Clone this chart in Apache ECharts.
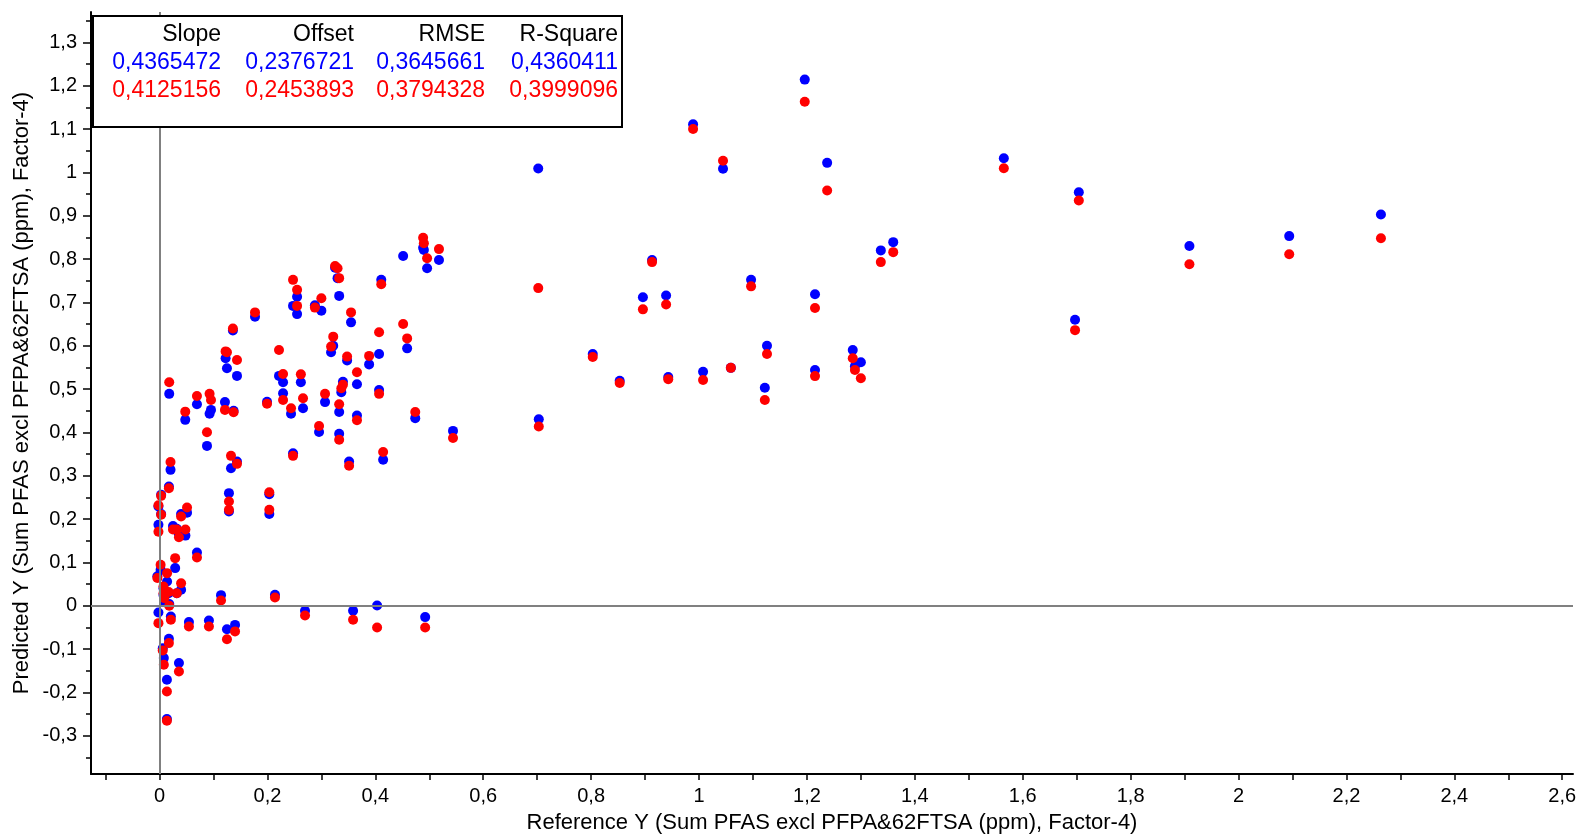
<!DOCTYPE html>
<html><head><meta charset="utf-8">
<script src="https://cdn.jsdelivr.net/npm/echarts@6/dist/echarts.min.js"></script>
<style>html,body{margin:0;padding:0;background:#fff}#c{width:1581px;height:838px}</style>
</head><body><div id="c"></div>
<script>
// Reference Y values (x axis)
const refY = [
 0.702,0.703,0.989,1.196,1.0445,1.2375,1.565,1.704,1.697,1.909,2.094,2.264,1.360,1.337,1.0965,1.215,1.126,1.285,1.289,1.300,
 1.0075,1.059,1.215,1.122,0.544,0.803,0.853,0.896,0.913,0.939,0.943,
 0.4886,0.490,0.496,0.518,0.4516,0.411,0.3254,0.330,0.333,0.2475,0.255,0.255,0.288,0.300,0.355,0.177,0.136,0.459,0.407,
 0.318,0.322,0.2215,0.229,0.262,0.3477,0.3885,0.366,0.340,0.337,0.1225,0.125,0.1436,0.0694,0.0928,0.0954,0.1213,0.1373,0.0477,0.088,
 0.1993,0.229,0.2438,0.266,0.3068,0.333,0.407,0.474,0.366,0.333,0.2957,0.2475,0.1325,0.1436,0.3514,0.4145,0.018,
 0.1287,0.1287,0.0204,0.0174,0.003,-0.002,0.003,-0.002,0.025,0.032,0.036,0.048,0.040,0.051,0.0694,0.029,0.2035,0.2035,
 0.214,0.2697,0.3588,0.4033,0.4924,0.114,0.0545,0.0916,0.125,0.14,0.0174,0.006,0.008,0.036,0.0137,0.0137,
 0.002,-0.004,0.014,0.0074,0.0074,0.009,0.040,0.032,0.017,0.018,-0.002,0.021
];
// Predicted Y, blue series
const predBlue = [
 1.009,0.4306,1.111,1.214,1.0085,1.022,1.0325,0.954,0.660,0.830,0.853,0.903,0.839,0.820,0.752,0.719,0.600,0.590,0.553,0.562,
 0.540,0.549,0.544,0.503,0.4036,0.581,0.519,0.712,0.798,0.716,0.528,
 0.826,0.821,0.779,0.798,0.807,0.752,0.780,0.756,0.715,0.692,0.713,0.673,0.6935,0.681,0.654,0.667,0.635,0.594,0.581,
 0.585,0.600,0.5305,0.516,0.516,0.566,0.557,0.511,0.517,0.493,0.571,0.548,0.5305,0.465,0.443,0.452,0.470,0.450,0.429,0.369,
 0.471,0.4905,0.443,0.456,0.470,0.447,0.498,0.433,0.439,0.397,0.401,0.352,0.3175,0.333,0.333,0.337,0.489,
 0.260,0.2175,0.3137,0.275,0.256,0.229,0.212,0.187,0.184,0.178,0.165,0.162,0.212,0.215,0.123,0.087,0.2576,0.212,
 0.0254,-0.0115,-0.0115,0.0008,-0.026,0.0246,-0.0376,-0.034,-0.054,-0.044,-0.076,-0.098,-0.1206,-0.132,-0.1707,-0.261,
 0.083,0.068,0.056,0.040,0.025,0.010,0.037,0.029,0.029,0.004,-0.0154,-0.0246
];
// Predicted Y, red series
const predRed = [
 0.733,0.4136,1.100,1.163,1.027,0.958,1.0095,0.935,0.636,0.788,0.811,0.848,0.816,0.793,0.737,0.687,0.581,0.571,0.544,0.525,
 0.521,0.549,0.530,0.475,0.387,0.574,0.514,0.684,0.793,0.695,0.523,
 0.849,0.8365,0.802,0.823,0.650,0.742,0.784,0.779,0.756,0.752,0.729,0.692,0.688,0.7097,0.677,0.677,0.640,0.617,0.631,
 0.598,0.621,0.590,0.535,0.534,0.575,0.5766,0.539,0.510,0.502,0.587,0.585,0.567,0.484,0.489,0.475,0.452,0.4467,0.448,0.4006,
 0.466,0.475,0.456,0.479,0.489,0.465,0.489,0.447,0.428,0.383,0.415,0.346,0.346,0.3275,0.323,0.355,0.516,
 0.2406,0.2214,0.332,0.2714,0.2537,0.232,0.210,0.171,0.176,0.176,0.158,0.176,0.206,0.227,0.1114,0.110,0.262,0.2214,
 0.019,-0.0224,-0.032,-0.050,-0.050,0.0122,-0.0477,-0.0477,-0.077,-0.059,-0.086,-0.103,-0.136,-0.1515,-0.1976,-0.265,
 0.0946,0.064,0.0754,0.0446,0.029,0.0178,0.052,0.029,0.032,0.0,-0.040,-0.032
];
const xTickValues = [-0.1,0,0.1,0.2,0.3,0.4,0.5,0.6,0.7,0.8,0.9,1,1.1,1.2,1.3,1.4,1.5,1.6,1.7,1.8,1.9,2,2.1,2.2,2.3,2.4,2.5,2.6];
const xLabelValues = [0,0.2,0.4,0.6,0.8,1,1.2,1.4,1.6,1.8,2,2.2,2.4,2.6];
const yLabelValues = [-0.3,-0.2,-0.1,0,0.1,0.2,0.3,0.4,0.5,0.6,0.7,0.8,0.9,1,1.1,1.2,1.3];
const yMinorValues = [-0.35,-0.25,-0.15,-0.05,0.05,0.15,0.25,0.35,0.45,0.55,0.65,0.75,0.85,0.95,1.05,1.15,1.25,1.35];
const statHeaders = ['Slope','Offset','RMSE','R-Square'];
const statsBlue = ['0,4365472','0,2376721','0,3645661','0,4360411'];
const statsRed = ['0,4125156','0,2453893','0,3794328','0,3999096'];
const xTitle = 'Reference Y (Sum PFAS excl PFPA&62FTSA (ppm), Factor-4)';
const yTitle = 'Predicted Y (Sum PFAS excl PFPA&62FTSA (ppm), Factor-4)';

const FONT = "'Liberation Sans', Arial, sans-serif";
const fmt = v => String(Math.round(v * 100) / 100).replace('.', ',');

const colX = [221, 354, 485, 618];
const rowY = [35, 63, 91];
const legendTexts = [];
[[statHeaders, '#000'], [statsBlue, '#0000ff'], [statsRed, '#ff0000']].forEach(([arr, col], r) => {
  arr.forEach((t, c) => {
    legendTexts.push({type:'text', x: colX[c], y: rowY[r], z: 101,
      style:{text:t, fill:col, font:'23px ' + FONT, textAlign:'right', textVerticalAlign:'middle'}});
  });
});

const chart = echarts.init(document.getElementById('c'), null, {renderer:'canvas'});
chart.setOption({
  animation:false,
  backgroundColor:'#fff',
  grid:{left:91, right:8, top:12, bottom:64, outerBoundsMode:'none', containLabel:false},
  xAxis:{type:'value', min:-0.127, max:2.62, splitLine:{show:false},
    axisLine:{show:true, onZero:false, lineStyle:{color:'#000', width:2}},
    axisTick:{show:true, customValues:xTickValues, length:6, lineStyle:{color:'#000', width:1.5}},
    axisLabel:{customValues:xLabelValues, formatter:fmt, fontSize:20, color:'#000', margin:12, fontFamily:FONT},
    name:xTitle, nameLocation:'middle', nameGap:38, nameMoveOverlap:false,
    nameTextStyle:{fontSize:22, color:'#000', fontFamily:FONT}},
  yAxis:[
    {type:'value', min:-0.388, max:1.37, splitLine:{show:false},
      axisLine:{show:true, onZero:false, lineStyle:{color:'#000', width:2}},
      axisTick:{show:true, customValues:yLabelValues, length:8, lineStyle:{color:'#000', width:1.5}},
      axisLabel:{customValues:yLabelValues, formatter:fmt, fontSize:20, color:'#000', margin:14, fontFamily:FONT},
      name:yTitle, nameLocation:'middle', nameGap:58, nameMoveOverlap:false,
      nameTextStyle:{fontSize:22, color:'#000', fontFamily:FONT}},
    {type:'value', min:-0.388, max:1.37, position:'left', offset:0, splitLine:{show:false},
      axisLine:{show:false, onZero:false}, axisLabel:{show:false},
      axisTick:{show:true, customValues:yMinorValues, length:5, lineStyle:{color:'#000', width:1.5}}}
  ],
  graphic:[
    {type:'rect', shape:{x:93, y:16, width:529, height:111}, z:100,
      style:{fill:'#fff', stroke:'#000', lineWidth:2}},
    ...legendTexts
  ],
  series:[
    {type:'scatter', data:[], z:1, silent:true,
      markLine:{silent:true, symbol:'none', animation:false, label:{show:false},
        lineStyle:{color:'#808080', width:2, type:'solid'},
        data:[{xAxis:0},{yAxis:0}]}},
    {type:'scatter', z:3, symbolSize:10, itemStyle:{color:'#0000ff', opacity:1},
      data:refY.map((x,i)=>[x, predBlue[i]])},
    {type:'scatter', z:4, symbolSize:10, itemStyle:{color:'#ff0000', opacity:1},
      data:refY.map((x,i)=>[x, predRed[i]])}
  ]
});
</script>
</body></html>
